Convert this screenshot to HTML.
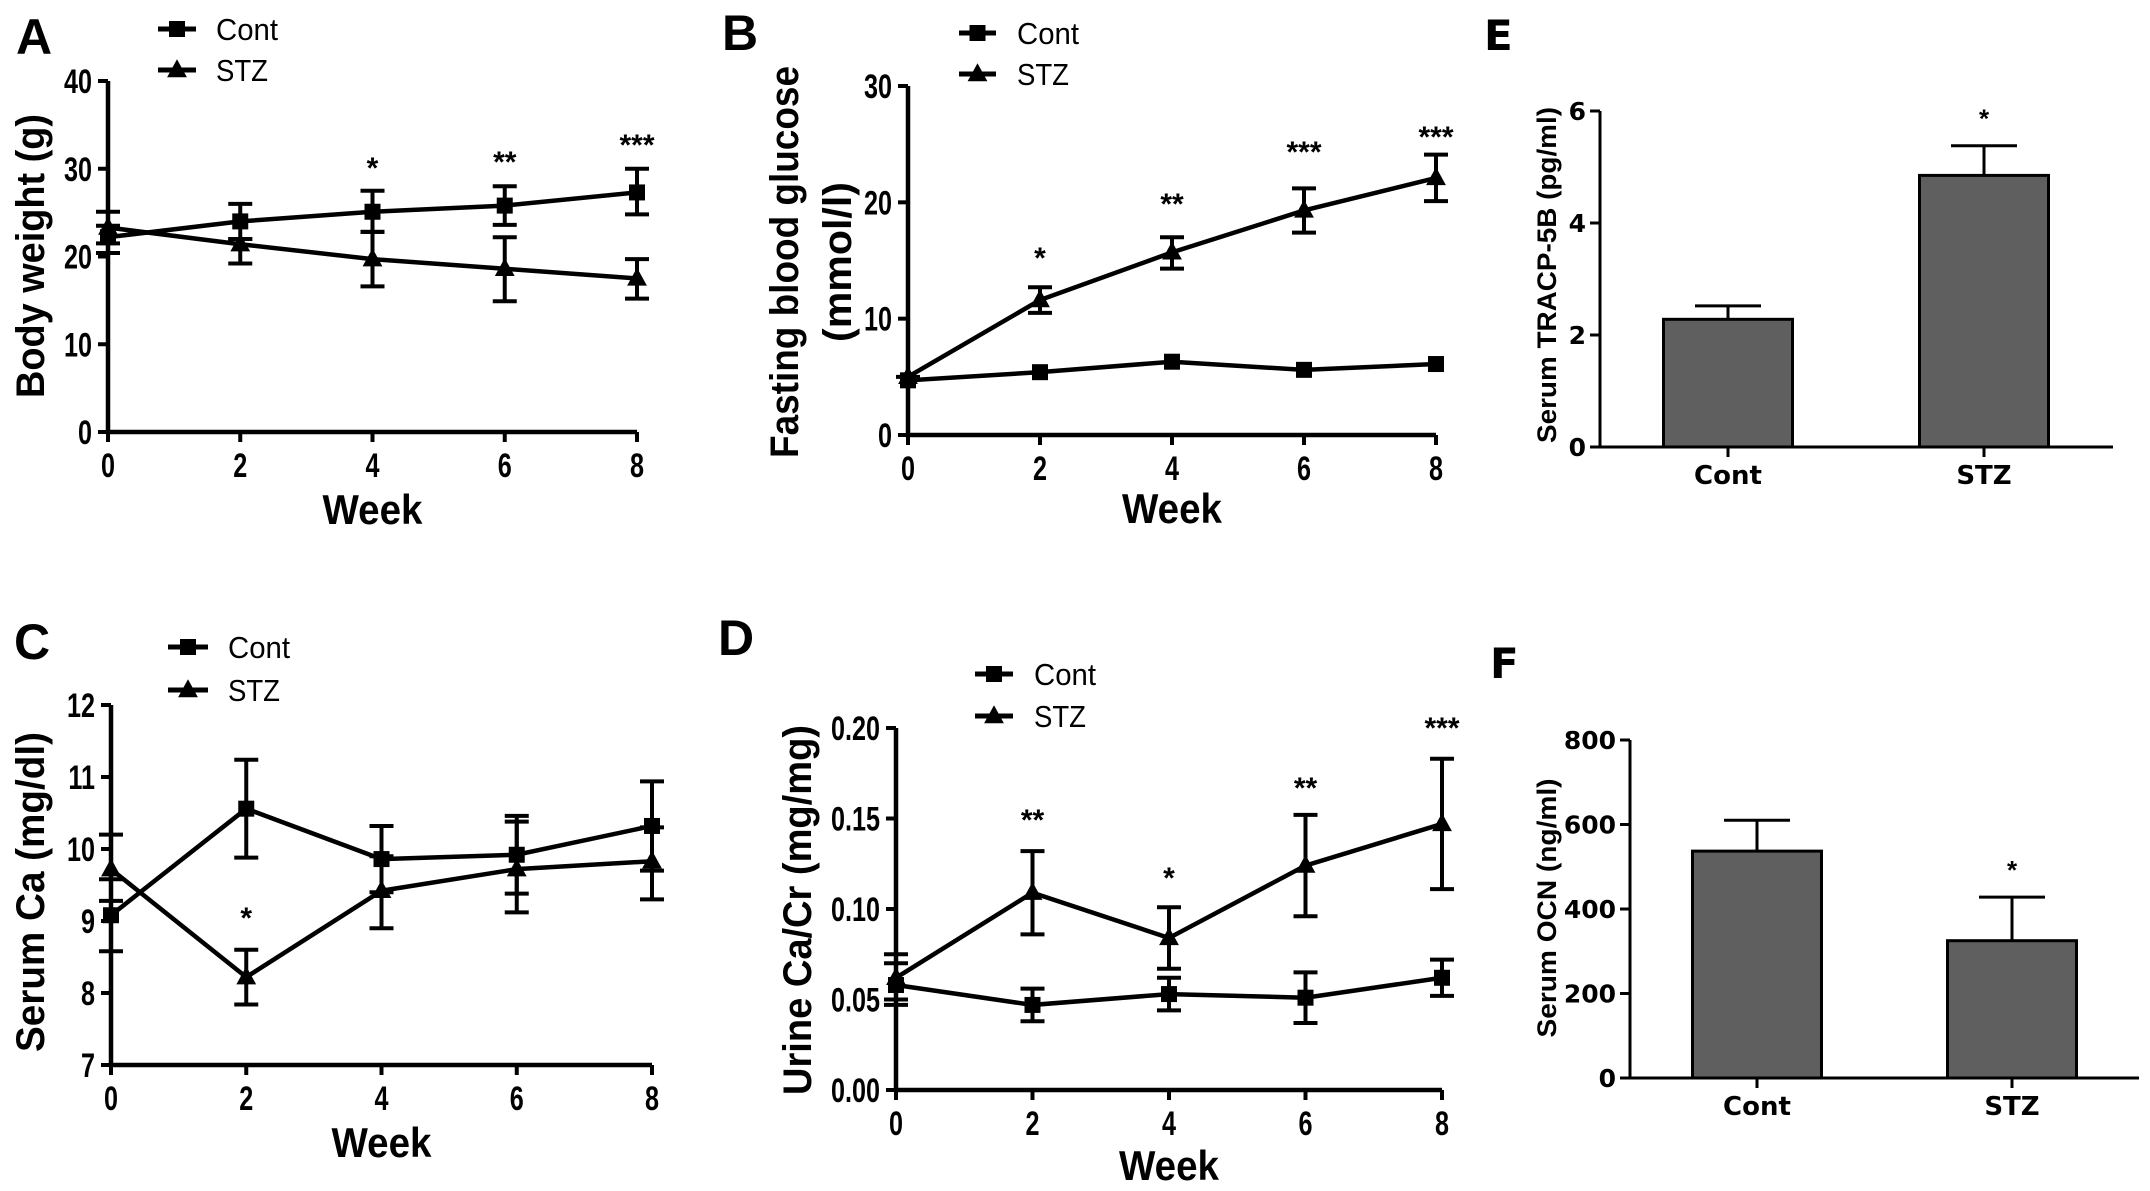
<!DOCTYPE html>
<html><head><meta charset="utf-8"><style>
html,body{margin:0;padding:0;background:#fff}
svg{display:block}
text{font-family:"Liberation Sans",Arial,sans-serif;font-weight:bold;fill:#000}
</style></head><body>
<svg id="fig" width="2150" height="1191" viewBox="0 0 2150 1191" xmlns="http://www.w3.org/2000/svg"></svg>
<script>
const weeks=[0,2,4,6,8];
const xTicks=["0","2","4","6","8"];
// A body weight
const aContMean=[22.2,24.0,25.1,25.8,27.3];
const aContUp=[23.5,26.0,27.5,28.0,30.0];
const aContLo=[20.4,22.0,22.8,23.6,24.8];
const aStzMean=[23.3,21.4,19.7,18.6,17.5];
const aStzUp=[25.1,22.0,22.8,22.2,19.7];
const aStzLo=[21.5,19.2,16.6,14.9,15.2];
const aYTicks=[0,10,20,30,40];
const aStars=["","","*","**","***"];
// B glucose
const bContMean=[4.7,5.4,6.3,5.6,6.1];
const bStzMean=[5.0,11.6,15.7,19.3,22.1];
const bStzUp=[5.0,12.7,17.0,21.2,24.1];
const bStzLo=[5.0,10.5,14.3,17.4,20.1];
const bYTicks=[0,10,20,30];
const bStars=["","*","**","***","***"];
// C serum Ca
const cContMean=[9.08,10.56,9.86,9.92,10.32];
const cContUp=[9.58,11.24,10.32,10.46,10.94];
const cContLo=[8.58,9.88,9.40,9.38,9.70];
const cStzMean=[9.72,8.22,9.42,9.72,9.83];
const cStzUp=[10.2,8.60,9.90,10.38,10.30];
const cStzLo=[9.28,7.84,8.90,9.12,9.30];
const cYTicks=[7,8,9,10,11,12];
const cStars=["","*","","",""];
// D urine Ca/Cr
const dContMean=[0.058,0.047,0.053,0.051,0.062];
const dContUp=[0.075,0.056,0.062,0.065,0.072];
const dContLo=[0.047,0.038,0.044,0.037,0.052];
const dStzMean=[0.062,0.109,0.084,0.124,0.147];
const dStzUp=[0.070,0.132,0.101,0.152,0.183];
const dStzLo=[0.050,0.086,0.067,0.096,0.111];
const dYTicks=[0,0.05,0.10,0.15,0.20];
const dYLabels=["0.00","0.05","0.10","0.15","0.20"];
const dStars=["","**","*","**","***"];
// E, F bars
const barCats=["Cont","STZ"];
const eMeans=[2.28,4.85];
const eErr=[2.52,5.38];
const eYTicks=[0,2,4,6];
const eStars=["","*"];
const fMeans=[537,325];
const fErr=[610,428];
const fYTicks=[0,200,400,600,800];
const fStars=["","*"];

const NS="http://www.w3.org/2000/svg";
const svg=document.getElementById('fig');
function el(tag,attrs,parent){const e=document.createElementNS(NS,tag);for(const k in attrs)e.setAttribute(k,attrs[k]);(parent||svg).appendChild(e);return e;}
function txt(parent,x,y,s,size,anchor,squeeze,rot){
  const t=el('text',{x:x,y:y,'font-size':size,'text-anchor':anchor||'start'},parent);
  t.textContent=s;
  if(rot)t.setAttribute('transform','rotate(-90 '+x+' '+y+')');
  if(squeeze){const L=t.getComputedTextLength();if(typeof squeeze==='number'&&squeeze<3){t.setAttribute('textLength',L*squeeze);}else{t.setAttribute('textLength',squeeze);}t.setAttribute('lengthAdjust','spacingAndGlyphs');}
  return t;
}
function sq(g,x,y,s){el('rect',{x:x-s/2,y:y-s/2,width:s,height:s,fill:'#000'},g);}
function tri(g,x,y,s){el('path',{d:`M${x} ${y-s*0.6}L${x+s*0.55} ${y+s*0.4}L${x-s*0.55} ${y+s*0.4}Z`,fill:'#000'},g);}

function linePanel(o){
  const g=el('g',{});  
  const xs=v=>o.x0+(o.x1-o.x0)*v/8;
  const ys=v=>o.y0-(o.y0-o.y1)*(v-o.ymin)/(o.ymax-o.ymin);
  const ax=el('path',{d:`M${o.x0} ${o.y1}V${o.y0}H${o.x1}`,stroke:'#000','stroke-width':4.5,fill:'none'},g);
   
  o.yt.forEach((v,i)=>{const y=ys(v);el('line',{x1:o.x0-10,x2:o.x0,y1:y,y2:y,stroke:'#000','stroke-width':4},g);
    const t=txt(g,o.x0-16,y+12,o.ylab?o.ylab[i]:String(v),34,'end',0.74);});
  weeks.forEach((w,i)=>{const x=xs(w);el('line',{x1:x,x2:x,y1:o.y0,y2:o.y0+10,stroke:'#000','stroke-width':4},g);
    const t=txt(g,x,o.y0+45,xTicks[i],34,'middle',0.74);});
  const series=[[o.cm,o.cu,o.cl,'cont'],[o.sm,o.su,o.sl,'stz']];
  series.forEach(([m,u,l,nm])=>{
    if(!u)return;
    weeks.forEach((w,i)=>{const x=xs(w);
      const e=el('path',{d:`M${x} ${ys(l[i])}V${ys(u[i])}M${x-12} ${ys(u[i])}H${x+12}M${x-12} ${ys(l[i])}H${x+12}`,stroke:'#000','stroke-width':4,fill:'none'},g);
       });
  });
  series.forEach(([m,u,l,nm])=>{
    const p=el('polyline',{points:weeks.map((w,i)=>xs(w)+','+ys(m[i])).join(' '),stroke:'#000','stroke-width':4.5,fill:'none'},g);
     
    weeks.forEach((w,i)=>{if(nm==='cont')sq(g,xs(w),ys(m[i]),16);else tri(g,xs(w),ys(m[i]),18);});
  });
  o.stars.forEach((s,i)=>{if(!s)return;const t=txt(g,xs(weeks[i]),o.starY[i],s,30,'middle');});
  const lg=el('g',{},g);  
  el('line',{x1:o.lx0,x2:o.lx1,y1:o.ly1,y2:o.ly1,stroke:'#000','stroke-width':5},lg);sq(lg,(o.lx0+o.lx1)/2,o.ly1,16);
  el('line',{x1:o.lx0,x2:o.lx1,y1:o.ly2,y2:o.ly2,stroke:'#000','stroke-width':5},lg);tri(lg,(o.lx0+o.lx1)/2,o.ly2,18);
  const l1=txt(lg,o.ltx,o.ly1+11,'Cont',31,'start',62);l1.style.fontWeight='normal';
  const l2=txt(lg,o.ltx,o.ly2+11,'STZ',31,'start',52);l2.style.fontWeight='normal';
  const pl=txt(g,o.px,o.py,o.panel,50,'start');
  const wk=txt(g,(o.x0+o.x1)/2,o.wy,'Week',42,'middle',100);
  o.ytitle.forEach(([s,x,len])=>{const t=txt(g,x,o.ytc,s,40,'middle',len,true);});
}

linePanel({name:'panel-a-body-weight',panel:'A',x0:108,x1:637,y0:432,y1:81,ymin:0,ymax:40,yt:aYTicks,
  cm:aContMean,cu:aContUp,cl:aContLo,sm:aStzMean,su:aStzUp,sl:aStzLo,stars:aStars,starY:[0,0,178,172,155],
  lx0:158,lx1:196,ly1:29,ly2:70,ltx:216,px:16,py:54,wy:524,ytc:256,ytitle:[['Body weight (g)',44,284]]});
linePanel({name:'panel-b-fasting-glucose',panel:'B',x0:908,x1:1436,y0:435,y1:86,ymin:0,ymax:30,yt:bYTicks,
  cm:bContMean,sm:bStzMean,su:bStzUp,sl:bStzLo,stars:bStars,starY:[0,268,214,162,147],
  lx0:959,lx1:996,ly1:33,ly2:74,ltx:1017,px:722,py:50,wy:523,ytc:262,ytitle:[['Fasting blood glucose',798,392],['(mmol/l)',851,160]]});
linePanel({name:'panel-c-serum-ca',panel:'C',x0:111,x1:652,y0:1065,y1:705,ymin:7,ymax:12,yt:cYTicks,
  cm:cContMean,cu:cContUp,cl:cContLo,sm:cStzMean,su:cStzUp,sl:cStzLo,stars:cStars,starY:[0,928,0,0,0],
  lx0:168,lx1:208,ly1:647,ly2:690,ltx:228,px:14,py:659,wy:1157,ytc:892,ytitle:[['Serum Ca (mg/dl)',44,320]]});
linePanel({name:'panel-d-urine-ca-cr',panel:'D',x0:896,x1:1442,y0:1090,y1:728,ymin:0,ymax:0.2,yt:dYTicks,ylab:dYLabels,
  cm:dContMean,cu:dContUp,cl:dContLo,sm:dStzMean,su:dStzUp,sl:dStzLo,stars:dStars,starY:[0,830,888,798,738],
  lx0:975,lx1:1013,ly1:674,ly2:716,ltx:1034,px:718,py:655,wy:1180,ytc:910,ytitle:[['Urine Ca/Cr (mg/mg)',811,370]]});

function barPanel(o){
  const g=el('g',{});  
  const ys=v=>o.y0-(o.y0-o.y1)*v/o.ymax;
  const ax=el('path',{d:`M${o.x0} ${o.y1}V${o.y0}H${o.x1}`,stroke:'#000','stroke-width':3,fill:'none'},g);
   
  o.yt.forEach(v=>{const y=ys(v);el('line',{x1:o.x0-10,x2:o.x0,y1:y,y2:y,stroke:'#000','stroke-width':3},g);
    const t=txt(g,o.x0-14,y+9,String(v),25,'end');t.style.fontFamily='"DejaVu Sans",sans-serif';});
  barCats.forEach((c,i)=>{const cx=o.cx[i];
    el('line',{x1:cx,x2:cx,y1:ys(o.m[i]),y2:ys(o.e[i]),stroke:'#000','stroke-width':3},g);
    el('line',{x1:cx-33,x2:cx+33,y1:ys(o.e[i]),y2:ys(o.e[i]),stroke:'#000','stroke-width':3},g);
    const b=el('rect',{x:cx-o.bw/2,y:ys(o.m[i]),width:o.bw,height:o.y0-ys(o.m[i]),fill:'#5f5f5f',stroke:'#000','stroke-width':3},g);
     
    el('line',{x1:cx,x2:cx,y1:o.y0,y2:o.y0+10,stroke:'#000','stroke-width':3},g);
    const t=txt(g,cx,o.y0+37,c,26,'middle');t.style.fontFamily='"DejaVu Sans",sans-serif';
    if(o.stars[i]){const s=txt(g,cx,ys(o.e[i])-18,o.stars[i],26,'middle');}
  });
  const pl=txt(g,o.px,o.py,o.panel,42,'start');pl.style.fontFamily='"DejaVu Sans",sans-serif';
  const yt=txt(g,1556,o.ytc,o.title,27,'middle',o.tlen,true);
}
barPanel({name:'panel-e-tracp5b',panel:'E',x0:1600,x1:2113,y0:447,y1:111,ymax:6,yt:eYTicks,m:eMeans,e:eErr,stars:eStars,
  cx:[1728,1984],bw:129,px:1484,py:50,ytc:275,title:'Serum TRACP-5B (pg/ml)',tlen:336});
barPanel({name:'panel-f-ocn',panel:'F',x0:1630,x1:2139,y0:1078,y1:740,ymax:800,yt:fYTicks,m:fMeans,e:fErr,stars:fStars,
  cx:[1757,2012],bw:129,px:1490,py:678,ytc:908,title:'Serum OCN (ng/ml)',tlen:259});
</script>
</body></html>
